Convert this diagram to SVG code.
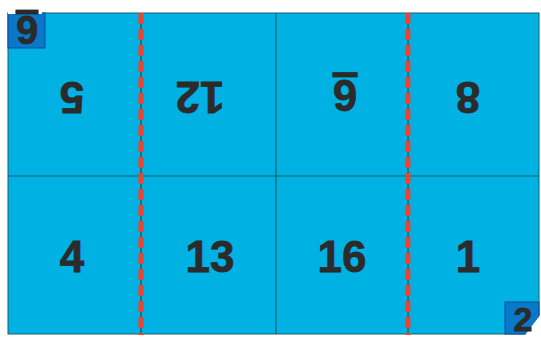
<svg xmlns="http://www.w3.org/2000/svg" width="541" height="339" viewBox="0 0 541 339">
<style>
.n{font-family:"Liberation Sans",Arial,sans-serif;font-weight:bold;font-size:44px;fill:#2b2b2b;text-anchor:middle;stroke:#2b2b2b;stroke-width:0.8}
.cell{fill:#00b2e3;stroke:#1a5f6a;stroke-width:1}
.fold{stroke:#ec4430;stroke-width:5;stroke-dasharray:11 5;fill:none}
.thin{stroke:#333;stroke-width:1;fill:none}
</style>
<rect width="541" height="339" fill="#ffffff"/>
<g id="sheet">
<rect x="8" y="13" width="531" height="321" class="cell"/>
<line x1="8" y1="176" x2="539" y2="176" stroke="#1a5f6a" stroke-width="1.2"/>
<line x1="276" y1="13" x2="276" y2="334" stroke="#1a5f6a" stroke-width="1.2"/>
</g>
<g id="connectors">
<line x1="141" y1="13" x2="141" y2="334" class="thin"/>
<line x1="141" y1="13" x2="141" y2="335" class="fold"/>
<line x1="408" y1="13" x2="408" y2="334" class="thin"/>
<line x1="408" y1="13" x2="408" y2="335" class="fold"/>
</g>
<g id="p5"><text class="n" transform="translate(72,82) rotate(180)">5</text></g>
<g id="p12"><text class="n" transform="translate(200,82) rotate(180)">12</text></g>
<g id="p6"><text class="n" text-decoration="underline" transform="translate(345,80) rotate(180)">6</text></g>
<g id="p8"><text class="n" transform="translate(468,82) rotate(180)">8</text></g>
<g id="p4"><text class="n" x="72" y="272">4</text></g>
<g id="p13"><text class="n" x="210" y="272">13</text></g>
<g id="p16"><text class="n" x="342" y="272">16</text></g>
<g id="p1"><text class="n" x="468" y="272">1</text></g>
<g id="corner-tl">
<rect x="8" y="13" width="37" height="35" fill="#0a78c8" stroke="#0a4f9a" stroke-width="1"/>
<rect x="8" y="3" width="34" height="11" fill="#ffffff"/>
<text class="n" text-decoration="underline" transform="translate(27,16) rotate(180)" style="font-size:40px">6</text>
</g>
<g id="corner-br">
<rect x="505" y="302" width="34" height="32" fill="#0a78c8" stroke="#0a4f9a" stroke-width="1"/>
<polygon points="541,314 541,339 522,339" fill="#ffffff"/>
<text class="n" x="523" y="331" style="font-size:34px">2</text>
</g>
</svg>
